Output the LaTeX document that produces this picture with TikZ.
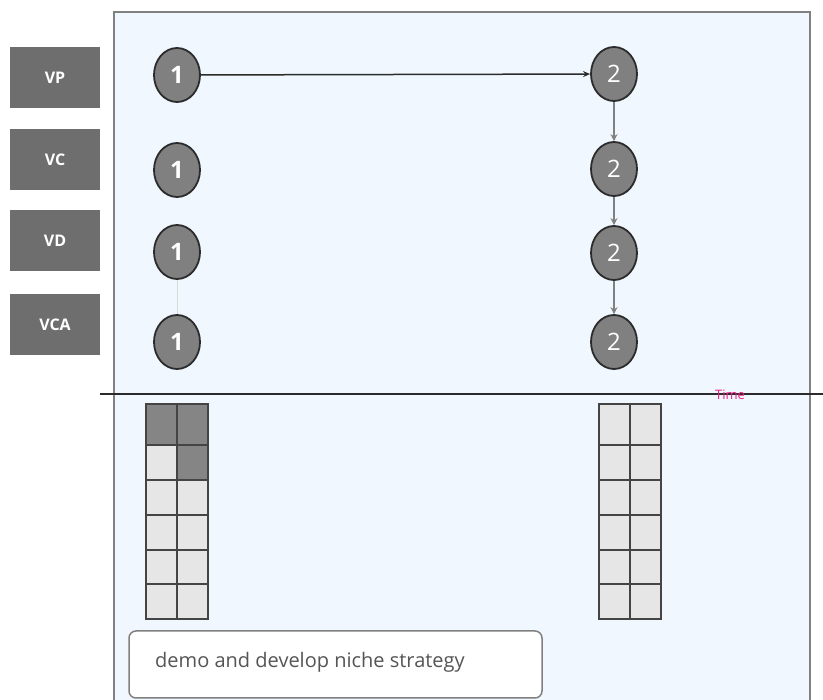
\documentclass[tikz,border=0pt]{standalone}
\usepackage{fontspec}
\setmainfont{Open Sans}
\usetikzlibrary{shapes.geometric,arrows.meta}
\definecolor{panelbg}{HTML}{F0F7FF}
\definecolor{panelline}{HTML}{808080}
\definecolor{lblbox}{HTML}{6E6E6E}
\definecolor{circfill}{HTML}{808080}
\definecolor{circline}{HTML}{2B2B2B}
\definecolor{celllight}{HTML}{E6E6E6}
\definecolor{celldark}{HTML}{858585}
\definecolor{cellline}{HTML}{444444}
\definecolor{timecol}{HTML}{E8207E}
\definecolor{boxtext}{HTML}{555555}
\tikzset{
  lbl/.style={fill=lblbox, draw=none, minimum width=90pt, minimum height=61pt, inner sep=0pt,
    text=white, font=\fontsize{16}{18}\selectfont\bfseries},
  stepone/.style={ellipse, fill=circfill, draw=circline, line width=1.8pt, minimum width=46pt,
    minimum height=54pt, inner sep=0pt, text=white, font=\fontsize{24}{26}\selectfont\bfseries},
  steptwo/.style={ellipse, fill=circfill, draw=circline, line width=1.8pt, minimum width=46pt,
    minimum height=54pt, inner sep=0pt, text=white, font=\fontsize{24}{26}\selectfont},
  grayarrow/.style={draw=panelline, line width=1.5pt, -{Stealth[length=7pt,width=7pt]}},
  blackarrow/.style={draw=circline, line width=1.5pt, -{Stealth[length=7pt,width=6pt]}},
  lcell/.style={fill=celllight, draw=cellline, line width=1.3pt},
  dcell/.style={fill=celldark, draw=cellline, line width=1.3pt},
}
\begin{document}
\begin{tikzpicture}[x=1pt,y=-1pt]
\useasboundingbox (0,0) rectangle (823,700);
% panel
\fill[panelbg] (114,12) rectangle (810,705);
\draw[panelline, line width=2pt] (114,705) -- (114,12) -- (810,12) -- (810,705);
% left labels
\node[lbl] (vp) at (55,78) {VP};
\node[lbl] (vc) at (55,160) {VC};
\node[lbl] (vd) at (55,241) {VD};
\node[lbl] (vca) at (55,325) {VCA};
% circles
\node[stepone] (a1) at (177,75) {1};
\node[stepone] (b1) at (177,170) {1};
\node[stepone] (c1) at (177,252) {1};
\node[stepone] (d1) at (177,342) {1};
\node[steptwo] (a2) at (614,74) {2};
\node[steptwo] (b2) at (614,169) {2};
\node[steptwo] (c2) at (614,253) {2};
\node[steptwo] (d2) at (614,342) {2};
% connectors
\draw[blackarrow] (a1) -- (a2);
\draw[grayarrow] (a2) -- (b2);
\draw[grayarrow] (b2) -- (c2);
\draw[grayarrow] (c2) -- (d2);
\draw[black!15, line width=0.8pt] (c1) -- (d1);
% time axis
\coordinate (tl) at (100,394);
\coordinate (tr) at (823,394);
\draw[circline, line width=1.8pt] (tl) -- (tr);
\node[text=timecol, font=\fontsize{13}{14}\selectfont, inner sep=0pt] (time) at (730,395) {Time};
% grids
\foreach \ya/\yb [count=\i] in {404/445,445/480,480/515,515/550,550/584,584/619}{
  \draw[lcell] (146,\ya) rectangle (177,\yb);
  \draw[lcell] (177,\ya) rectangle (208,\yb);
  \draw[lcell] (599,\ya) rectangle (630,\yb);
  \draw[lcell] (630,\ya) rectangle (661,\yb);
}
\draw[dcell] (146,404) rectangle (177,445);
\draw[dcell] (177,404) rectangle (208,445);
\draw[dcell] (177,445) rectangle (208,480);
% bottom box
\draw[fill=white, draw=panelline, line width=1.5pt, rounded corners=7pt] (129,631) rectangle (542,698);
\node[anchor=west, text=boxtext, font=\fontsize{20}{22}\selectfont, inner sep=0pt] (note) at (155,662) {demo and develop niche strategy};
\end{tikzpicture}
\end{document}
